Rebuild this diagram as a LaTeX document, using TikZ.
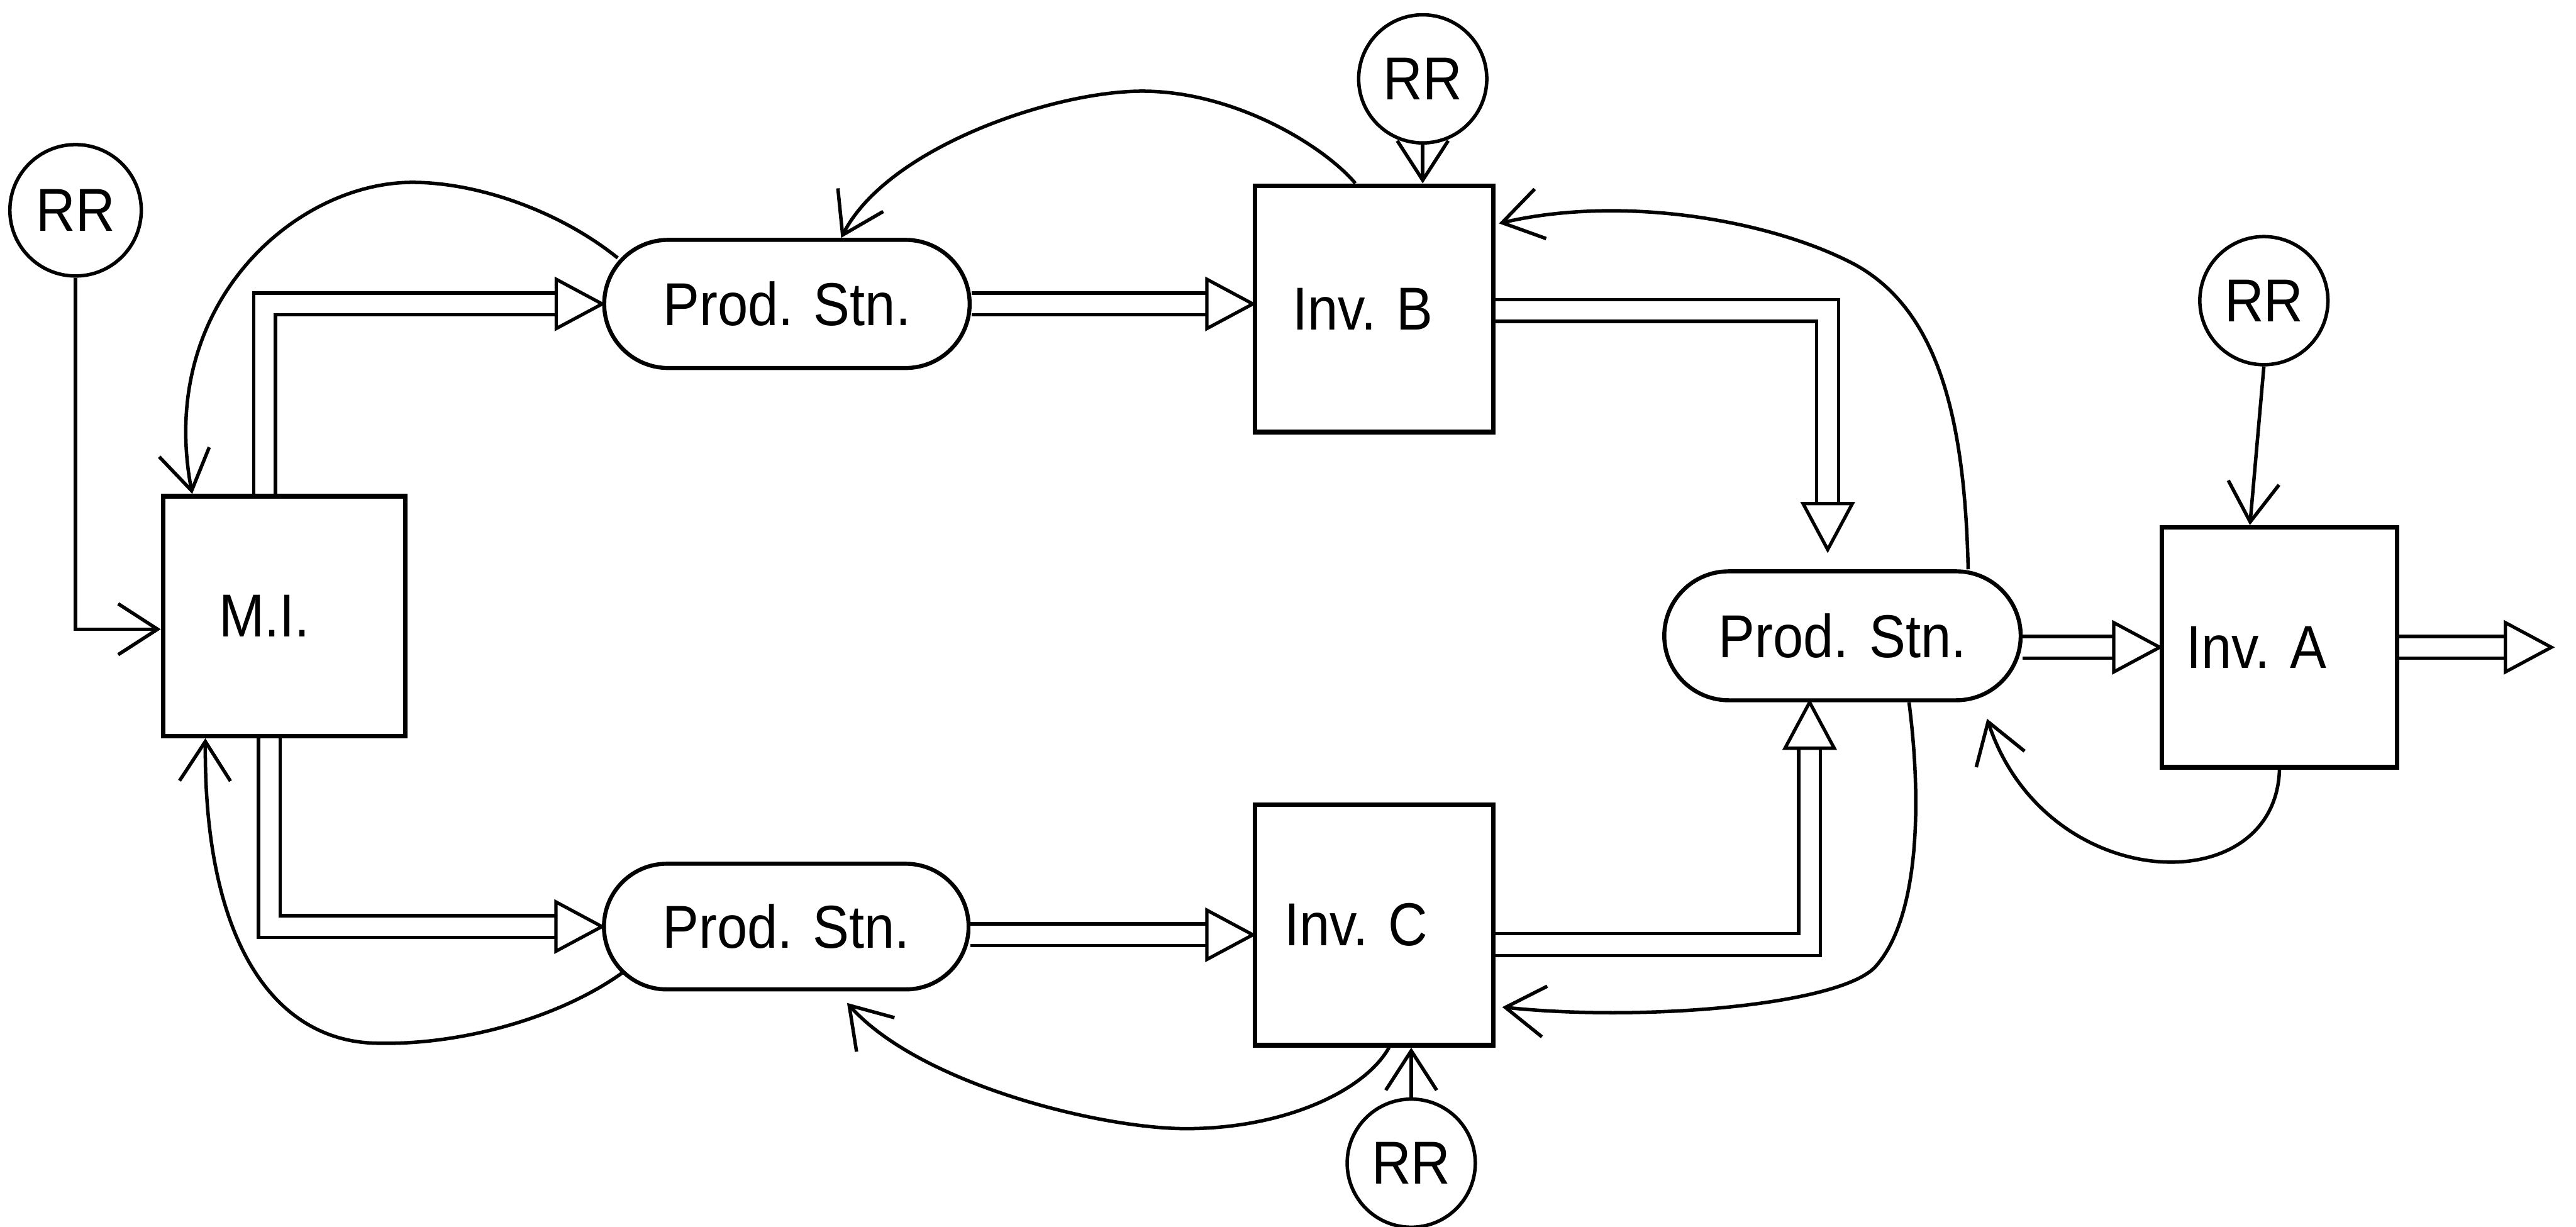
\documentclass[tikz,border=0pt]{standalone}
\usepackage{fontspec}
\setmainfont{Liberation Sans}[FakeStretch=0.9]
\usetikzlibrary{arrows.meta,shapes.misc,calc}
\newcommand\otri[2]{\draw[tri] (#1) -- ++(#2+151.8:0.635cm) -- ++(#2-90:0.6cm) -- cycle;}
\begin{document}
\begin{tikzpicture}[x=0.02cm,y=-0.02cm,
  every node/.style={font=\fontsize{21}{25}\selectfont},
  box/.style={draw, line width=1.6pt, inner sep=0pt},
  stn/.style={draw, rounded rectangle, line width=1.4pt, minimum height=1.56cm, inner sep=0pt},
  rr/.style={draw, circle, line width=1.2pt, minimum size=1.56cm, inner sep=0pt},
  fb/.style={line width=1.2pt, -{Straight Barb[length=0.48cm,width=0.62cm,line width=1.2pt]}},
  pipe/.style={double, double distance=0.225cm, line width=1.15pt, shorten >=0.56cm},
  tri/.style={line width=1.15pt, fill=white, line join=miter}
]
\useasboundingbox (0,0) rectangle (1568,746.7);

% nodes
\node[rr, minimum size=1.6cm] (rr1) at (46,128) {RR};
\node[rr] (rrB) at (866,48) {RR};
\node[rr] (rrA) at (1378,183) {RR};
\node[rr] (rrC) at (859,708) {RR};

\node[box, minimum width=2.95cm, minimum height=2.92cm] (mi) at (173,375) {M.I.\kern0.48cm};
\node[box, minimum width=2.9cm, minimum height=3.0cm] (invB) at (836.5,188) {Inv. B\kern0.28cm};
\node[box, minimum width=2.9cm, minimum height=2.93cm] (invC) at (836.5,563) {Inv. C\kern0.44cm};
\node[box, minimum width=2.86cm, minimum height=2.92cm] (invA) at (1387.5,394) {Inv. A\kern0.56cm};

\node[stn, minimum width=4.45cm] (ps1) at (479,185) {Prod. Stn.};
\node[stn, minimum width=4.34cm, minimum height=1.57cm] (ps2) at (1121.5,387) {Prod. Stn.};
\node[stn, minimum width=4.44cm, minimum height=1.53cm] (ps3) at (478.6,564) {Prod. Stn.};

% pipes (material flows)
\draw[pipe] ($(mi.north)+(-12,0)$) |- (ps1.west);
\otri{ps1.west}{0}
\draw[pipe] (ps1.east) -- (invB.west |- ps1.east);
\otri{invB.west |- ps1.east}{0}
\coordinate (t3) at ($(ps2.north)+(-9,-12)$);
\draw[pipe] ($(invB.east)+(0,1)$) -| (t3);
\otri{t3}{-90}
\draw[pipe] (ps2.east |- invA.west) -- (invA.west);
\otri{invA.west}{0}
\coordinate (out) at (1553,394);
\draw[pipe] (invA.east) -- (out);
\otri{out}{0}
\draw[pipe] ($(mi.south)+(-9,0)$) |- (ps3.west);
\otri{ps3.west}{0}
\coordinate (t7) at ($(invC.west)+(0,6)$);
\draw[pipe] (ps3.east |- t7) -- (t7);
\otri{t7}{0}
\coordinate (t8) at ($(ps2.south)+(-20,0)$);
\draw[pipe] ($(invC.east)+(0,12)$) -| (t8);
\otri{t8}{90}

% information / feedback arrows
\draw[fb] (rr1.south) |- ($(mi.west)+(0,8)$);
\draw[fb] ($(ps1.center)+(-103,-28)$) .. controls (340,128) and (290,111) .. (251,111)
  .. controls (180,111) and (95,185) .. ($(mi.north)+(-56,0)$);
\draw[fb] ($(invB.north)+(-11.5,0)$) .. controls (805,88) and (750,55) .. (694,55.5)
  .. controls (640,56) and (540,90) .. ($(ps1.north)+(33,0)$);
\draw[fb] ($(ps2.north)+(76.5,0)$) .. controls (1196,260) and (1182,190) .. (1129,161)
  .. controls (1080,135) and (990,118) .. ($(invB.east)+(2,-52)$);
\draw[fb] ($(ps2.south)+(40.5,0)$) .. controls (1170,490) and (1168,560) .. (1141,589)
  .. controls (1118,612) and (1000,622) .. ($(invC.east)+(4,50)$);
\draw[fb] (invA.south) .. controls (1385,550) and (1245,545) .. ($(ps2.south)+(88,10)$);
\draw[fb] ($(invC.south)+(9,0)$) .. controls (830,665) and (780,687) .. (722,687)
  .. controls (670,687) and (560,660) .. ($(ps3.south)+(37,7)$);
\draw[fb] ($(ps3.center)+(-99.6,28)$) .. controls (340,620) and (280,636) .. (231,635)
  .. controls (168,635) and (124,575) .. ($(mi.south)+(-48,0)$);
\draw[fb] (rrB.south) -- (rrB.south |- invB.north);
\draw[fb] (rrA.south) -- ($(invA.north)+(-18,0)$);
\draw[fb] (rrC.north) -- (rrC.north |- invC.south);
\end{tikzpicture}
\end{document}
